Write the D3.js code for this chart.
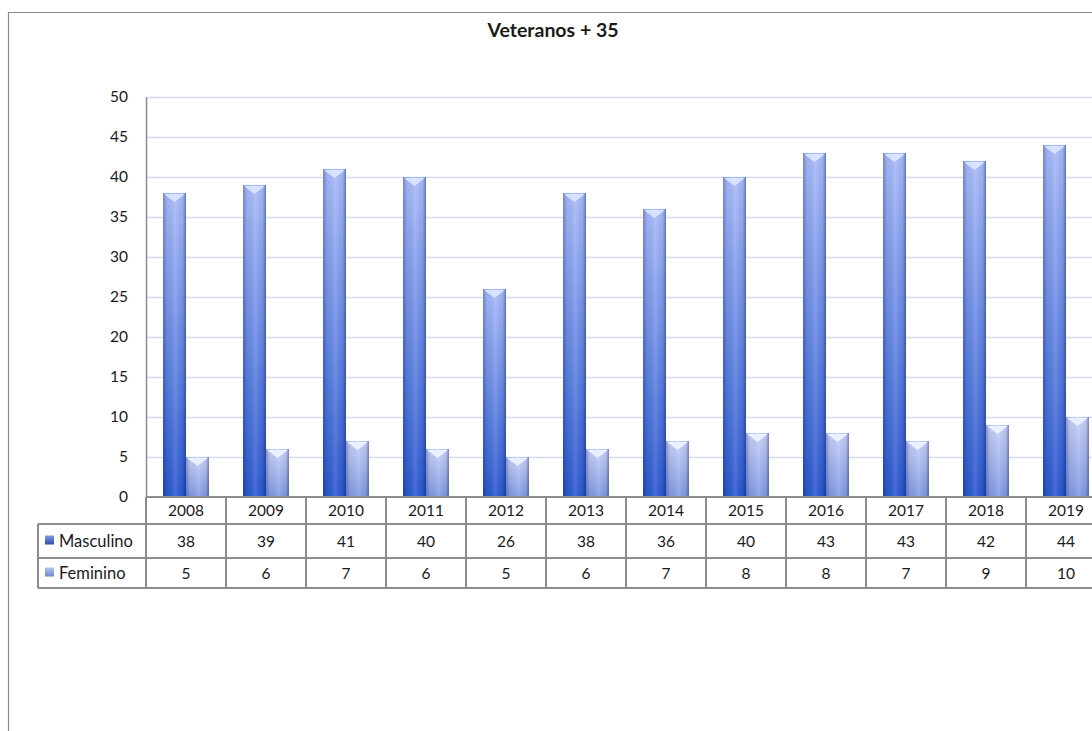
<!DOCTYPE html>
<html><head><meta charset="utf-8">
<script src="https://cdn.jsdelivr.net/npm/d3@7"></script>
<style>
html,body{margin:0;padding:0;background:#fff;overflow:hidden}
text{font-family:Lato,"Open Sans",sans-serif;fill:#1a1a1a}
</style></head>
<body>
<svg id="c" width="1092" height="731"></svg>
<script>
const categories = ["2008","2009","2010","2011","2012","2013","2014","2015","2016","2017","2018","2019"];
const masculino = [38,39,41,40,26,38,36,40,43,43,42,44];
const feminino = [5,6,7,6,5,6,7,8,8,7,9,10];
const seriesNames = ["Masculino","Feminino"];
const yTicks = [0,5,10,15,20,25,30,35,40,45,50];
const title = "Veteranos + 35";

const svg = d3.select("#c");
const W = 1092, H = 731;
const plotL = 146, plotT = 97, plotB = 497, band = 80;
const x = d3.scaleBand().domain(categories).range([plotL, plotL + band*categories.length]).paddingInner(0).paddingOuter(0);
const y = d3.scaleLinear().domain([0,50]).range([plotB, plotT]);
const FS = 15.5;

const defs = svg.append("defs");
function vgrad(id, top, bot){
  const g = defs.append("linearGradient").attr("id",id).attr("x1",0).attr("y1",0).attr("x2",0).attr("y2",1);
  g.append("stop").attr("offset","0%").attr("stop-color",top);
  g.append("stop").attr("offset","100%").attr("stop-color",bot);
}
vgrad("gm","#a9bbf8","#2957cf");
vgrad("gf","#c9d3f8","#8299e2");
const hg = defs.append("linearGradient").attr("id","hs").attr("x1",0).attr("y1",0).attr("x2",1).attr("y2",0);
hg.append("stop").attr("offset","0%").attr("stop-color","#001050").attr("stop-opacity",0.30);
hg.append("stop").attr("offset","18%").attr("stop-color","#001050").attr("stop-opacity",0.05);
hg.append("stop").attr("offset","55%").attr("stop-color","#ffffff").attr("stop-opacity",0.12);
hg.append("stop").attr("offset","85%").attr("stop-color","#001050").attr("stop-opacity",0.05);
hg.append("stop").attr("offset","100%").attr("stop-color","#001050").attr("stop-opacity",0.40);
const lg = defs.append("linearGradient").attr("id","lk").attr("x1",0).attr("y1",0).attr("x2",0).attr("y2",1);
lg.append("stop").attr("offset","0%").attr("stop-color","#7f99e6");
lg.append("stop").attr("offset","100%").attr("stop-color","#2b4fa8");
const lg2 = defs.append("linearGradient").attr("id","lk2").attr("x1",0).attr("y1",0).attr("x2",0).attr("y2",1);
lg2.append("stop").attr("offset","0%").attr("stop-color","#b7c4ee");
lg2.append("stop").attr("offset","100%").attr("stop-color","#6f86cf");

// chart border
svg.append("path").attr("d",`M8.5,${H} L8.5,12.5 L${W},12.5`).attr("fill","none").attr("stroke","#8a8a8a").attr("stroke-width",1.2);

// title
svg.append("text").attr("x",553).attr("y",37).attr("text-anchor","middle")
  .attr("font-size",19.5).attr("font-weight","bold").text(title);

// gridlines
svg.append("g").selectAll("line").data(yTicks.filter(d=>d>0)).join("line")
  .attr("x1",plotL).attr("x2",W).attr("y1",d=>y(d)+0.5).attr("y2",d=>y(d)+0.5)
  .attr("stroke","#d6dcee").attr("stroke-width",1.5);

// y axis
const ya = svg.append("g").attr("transform",`translate(${plotL},0)`)
  .call(d3.axisLeft(y).tickValues(yTicks).tickSize(0).tickPadding(18));
ya.select(".domain").attr("stroke","#8a8a8a").attr("stroke-width",1.5);
ya.selectAll("text").attr("font-size",FS).attr("fill","#1a1a1a").style("font-family","Lato,'Open Sans',sans-serif");

// bars
const bw = 23;
const seriesData = [masculino, feminino];
const fills = ["url(#gm)","url(#gf)"];
const caps = ["#dfe7ff","#eef2ff"];
seriesData.forEach((vals, si) => {
  const g = svg.append("g");
  const data = categories.map((c,i)=>({c, v: vals[i]}));
  const bx = d => x(d.c) + x.bandwidth()/2 - bw + si*bw;
  g.selectAll("rect.b").data(data).join("rect").attr("class","b")
    .attr("x",bx).attr("y",d=>y(d.v)).attr("width",bw).attr("height",d=>plotB-y(d.v))
    .attr("fill",fills[si]);
  g.selectAll("rect.s").data(data).join("rect").attr("class","s")
    .attr("x",bx).attr("y",d=>y(d.v)).attr("width",bw).attr("height",d=>plotB-y(d.v))
    .attr("fill","url(#hs)");
  g.selectAll("path.cap").data(data).join("path").attr("class","cap")
    .attr("d",d=>{const x0=bx(d), y0=y(d.v); return `M${x0+1},${y0+1} L${x0+bw-1},${y0+1} L${x0+bw/2},${y0+9} Z`;})
    .attr("fill",caps[si]).attr("opacity",0.9);
});

// data table
const tb = svg.append("g");
const rowY = [497, 524, 558, 588];
const tableL = 38;
const lineC = "#8c8c8c", lw = 2;
tb.append("line").attr("x1",plotL).attr("x2",W).attr("y1",rowY[0]).attr("y2",rowY[0]).attr("stroke",lineC).attr("stroke-width",lw);
[1,2,3].forEach(i=>tb.append("line").attr("x1",tableL).attr("x2",W).attr("y1",rowY[i]).attr("y2",rowY[i]).attr("stroke",lineC).attr("stroke-width",lw));
tb.append("line").attr("x1",tableL).attr("x2",tableL).attr("y1",rowY[1]).attr("y2",rowY[3]).attr("stroke",lineC).attr("stroke-width",lw);
tb.selectAll("line.v").data(categories).join("line").attr("class","v")
  .attr("x1",d=>x(d)).attr("x2",d=>x(d)).attr("y1",rowY[0]).attr("y2",rowY[3]).attr("stroke",lineC).attr("stroke-width",lw);
tb.selectAll("text.yr").data(categories).join("text").attr("class","yr")
  .attr("x",d=>x(d)+x.bandwidth()/2).attr("y",(rowY[0]+rowY[1])/2+5.5).attr("text-anchor","middle").attr("font-size",FS).text(d=>d);
seriesData.forEach((vals,si)=>{
  const cy = (rowY[si+1]+rowY[si+2])/2 + 5.5;
  tb.selectAll("text.v"+si).data(categories).join("text").attr("class","v"+si)
    .attr("x",d=>x(d)+x.bandwidth()/2).attr("y",cy).attr("text-anchor","middle").attr("font-size",FS)
    .text((d,i)=>vals[i]);
  tb.append("rect").attr("x",45).attr("y",cy-11).attr("width",9).attr("height",9)
    .attr("fill",si===0?"url(#lk)":"url(#lk2)");
  tb.append("text").attr("x",59).attr("y",cy).attr("font-size",16.5).text(seriesNames[si]);
});
</script>
</body></html>
